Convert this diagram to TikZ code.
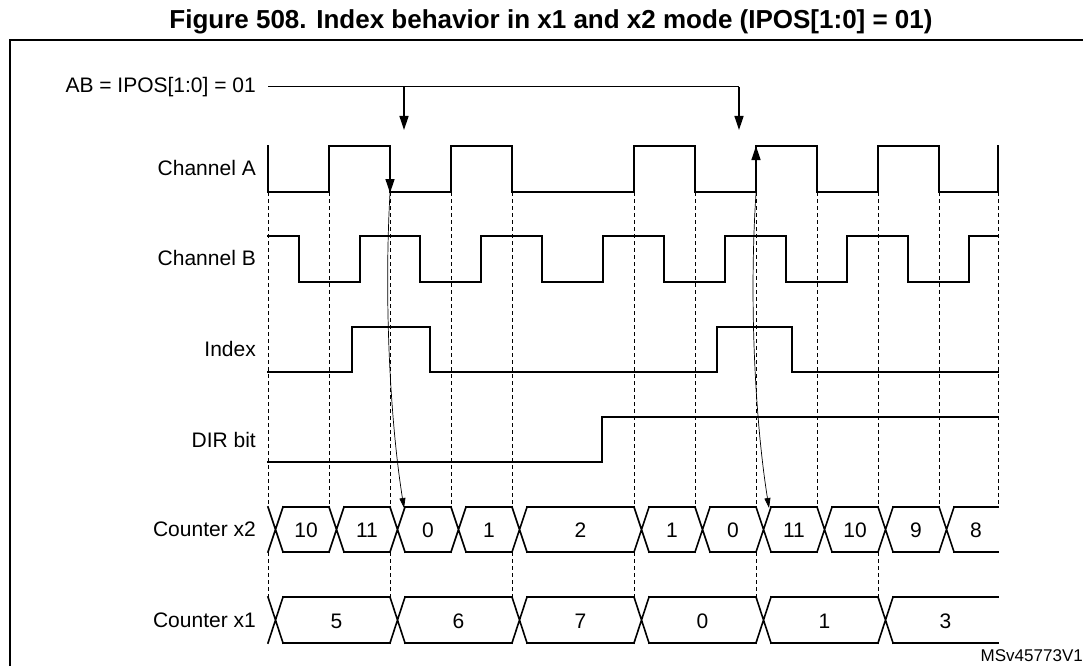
\documentclass[tikz,border=0pt]{standalone}
\usepackage{fontspec}
\setmainfont{Liberation Sans}
\usetikzlibrary{arrows.meta}

\begin{document}
\begin{tikzpicture}[
    x=1pt, y=-1pt,
    every node/.style={font=\fontsize{21}{24}\selectfont, inner sep=0pt},
    etiqueta/.style={anchor=east},
    senal/.style={line width=1.6pt, line cap=rect},
    guia/.style={dashed, line width=0.7pt, dash pattern=on 4pt off 3pt},
    flecha/.style={line width=1.3pt, -{Triangle[length=14pt, width=9pt]}},
    curva/.style={line width=0.7pt, -{Triangle[length=10pt, width=6pt]}}
]
\useasboundingbox (0,0) rectangle (1083,666);
% Titulo y marco
\node[font=\fontsize{26}{30}\selectfont\bfseries] (titulo) at (551,22) {Figure 508. Index behavior in x1 and x2 mode (IPOS[1:0] = 01)};
\draw[line width=1.4pt] (10,666) -- (10,40) -- (1083,40);
\node[font=\fontsize{17}{20}\selectfont, anchor=east] (ref) at (1083,656) {MSv45773V1};
% Etiquetas
\node[etiqueta] (lblAB) at (256,87) {AB = IPOS[1:0] = 01};
\node[etiqueta] (lblA) at (256,168) {Channel A};
\node[etiqueta] (lblB) at (256,258) {Channel B};
\node[etiqueta] (lblIdx) at (256,349) {Index};
\node[etiqueta] (lblDir) at (256,440) {DIR bit};
\node[etiqueta] (lblX2) at (256,529) {Counter x2};
\node[etiqueta] (lblX1) at (256,620) {Counter x1};
% Lineas guia
\foreach \x in {268,329,390,451,512,634,695,756,817,878,939,998}
  \draw[guia] (\x,192) -- (\x,507);
\foreach \x in {268,390,512,634,756,878}
  \draw[guia] (\x,552) -- (\x,597);
% Senales
\draw[senal] (268,146) -- (268,192) -- (329,192) -- (329,146) -- (390,146) -- (390,192)
  -- (451,192) -- (451,146) -- (512,146) -- (512,192) -- (634,192) -- (634,146)
  -- (695,146) -- (695,192) -- (756,192) -- (756,146) -- (817,146) -- (817,192)
  -- (878,192) -- (878,146) -- (939,146) -- (939,192) -- (998,192) -- (998,146);
\draw[senal] (268,236) -- (299,236) -- (299,282) -- (360,282) -- (360,236) -- (420,236)
  -- (420,282) -- (481,282) -- (481,236) -- (542,236) -- (542,282) -- (603,282)
  -- (603,236) -- (664,236) -- (664,282) -- (725,282) -- (725,236) -- (786,236)
  -- (786,282) -- (847,282) -- (847,236) -- (908,236) -- (908,282) -- (969,282)
  -- (969,236) -- (998,236);
\draw[senal] (268,372) -- (352,372) -- (352,327) -- (430,327) -- (430,372) -- (717,372)
  -- (717,327) -- (792,327) -- (792,372) -- (998,372);
\draw[senal] (268,462) -- (602,462) -- (602,417) -- (998,417);
% Contadores
\foreach \a/\b/\t in {268/329/10, 329/390/11, 390/451/0, 451/512/1, 512/634/2, 634/695/1,
    695/756/0, 756/817/11, 817/878/10, 878/939/9, 939/998/8} {
  \draw[senal] (\a,507) -- (\a+15,552) (\a,552) -- (\a+15,507)
    (\a+15,507) -- (\b,507) (\a+15,552) -- (\b,552);
  \node at ({(\a+15+\b)/2},530) {\t};
}
\foreach \a/\b/\t in {268/390/5, 390/512/6, 512/634/7, 634/756/0, 756/878/1, 878/998/3} {
  \draw[senal] (\a,597) -- (\a+15,643) (\a,643) -- (\a+15,597)
    (\a+15,597) -- (\b,597) (\a+15,643) -- (\b,643);
  \node at ({(\a+15+\b)/2},621) {\t};
}
% Indicadores
\coordinate (abIni) at (268,87);
\coordinate (abFin) at (739,87);
\coordinate (ab1) at (404,87);
\coordinate (ab1b) at (404,130);
\coordinate (ab2b) at (739,130);
\draw[line width=1pt] (abIni) -- (abFin);
\draw[flecha] (ab1) -- (ab1b);
\draw[flecha] (abFin) -- (ab2b);
% Flechas de flanco
\coordinate (aCae) at (390,146);
\coordinate (aBajo) at (390,193);
\coordinate (x2Uno) at (404,508);
\coordinate (aSube) at (756,146);
\coordinate (aBajo2) at (756,193);
\coordinate (x2Dos) at (769,508);
\draw[flecha] (aCae) -- (aBajo);
\draw[curva] (aBajo) .. controls (384,300) and (390,420) .. (x2Uno);
\draw[flecha] (aBajo2) -- (aSube);
\draw[curva] (aBajo2) .. controls (749,300) and (755,420) .. (x2Dos);
\end{tikzpicture}
\end{document}
